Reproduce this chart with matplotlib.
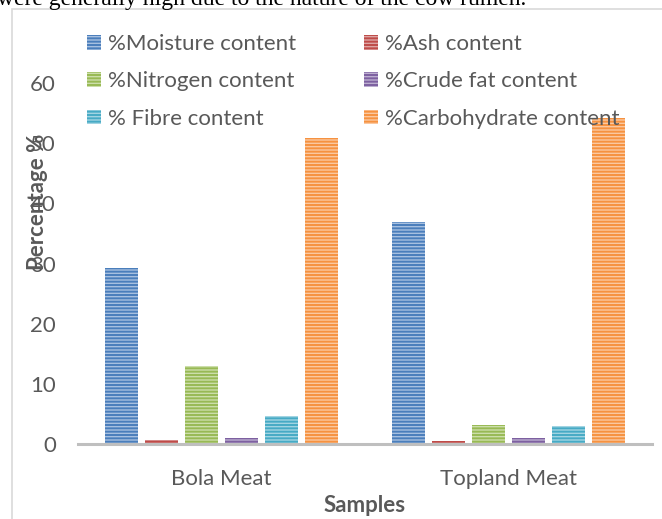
import matplotlib
matplotlib.use('Agg')
import matplotlib.pyplot as plt
import matplotlib.patches as mpatches
import numpy as np

samples = ['Bola Meat', 'Topland Meat']
series = ['%Moisture content', '%Ash content', '%Nitrogen content',
          '%Crude fat content', '% Fibre content', '%Carbohydrate content']
moisture = [29.3, 36.9]
ash = [0.7, 0.5]
nitrogen = [13.0, 3.2]
crude_fat = [1.0, 1.0]
fibre = [4.6, 3.0]
carbohydrate = [50.8, 54.2]
y_ticks = [0, 10, 20, 30, 40, 50, 60]

values = [moisture, ash, nitrogen, crude_fat, fibre, carbohydrate]
dark = ['#4A7EBB', '#BE4B48', '#98B954', '#7D60A0', '#46AAC5', '#F69240']
light = ['#A7C0E0', '#DDA4A3', '#CCDEAA', '#BCAED0', '#A2D4E2', '#FBC8A0']

plt.rcParams['font.family'] = ['Lato', 'DejaVu Sans']
plt.rcParams['hatch.linewidth'] = 1.4
text_col = '#595959'

fig = plt.figure(figsize=(6.62, 5.19), dpi=100)
W, H = 662, 519
ax = fig.add_axes([78 / W, 1 - 444 / H, 574 / W, 361 / H])

x = np.arange(len(samples))
step = 0.1394
width = 0.116
handles = []
for i, (name, vals) in enumerate(zip(series, values)):
    b = ax.bar(x + (i - 2.5) * step, vals, width, facecolor=light[i],
               edgecolor=dark[i], linewidth=0, hatch='-----', label=name)
    handles.append(b)

ax.set_xlim(-0.5, 1.5)
ax.set_ylim(0, 60)
ax.set_yticks(y_ticks)
ax.set_xticks(x)
ax.set_xticklabels(samples)
ax.tick_params(axis='both', length=0, labelsize=16, labelcolor=text_col)
ax.tick_params(axis='y', pad=16)
ax.tick_params(axis='x', pad=18)
for s in ['top', 'right', 'left']:
    ax.spines[s].set_visible(False)
ax.spines['bottom'].set_color('#BFBFBF')
ax.spines['bottom'].set_linewidth(2.2)

ax.set_ylabel('Percentage %', fontsize=16, fontweight='bold', color=text_col,
              va='center')
ax.yaxis.set_label_coords((38 - 78) / 574, (444 - 202) / 361)
ax.set_xlabel('Samples', fontsize=16, fontweight='bold', color=text_col)
ax.xaxis.set_label_coords(0.5, -(506 - 444) / 361)
ax.xaxis.label.set_va('center')

order = [0, 2, 4, 1, 3, 5]
leg = fig.legend([handles[k] for k in order], [series[k] for k in order],
                 ncol=2, loc='upper left', bbox_to_anchor=(87 / W, 1 - 34 / H),
                 frameon=False, fontsize=16, handlelength=0.64, handleheight=0.64,
                 handletextpad=0.3, columnspacing=3.05, labelspacing=0.78,
                 borderpad=0, borderaxespad=0)
for t in leg.get_texts():
    t.set_color(text_col)

# surrounding page frame and the cut-off sentence above the chart
fig.add_artist(mpatches.Rectangle((11.5 / W, -0.1), 1.2, 1 - 8.5 / H + 0.1,
                                  transform=fig.transFigure, fill=False,
                                  edgecolor='#D9D9D9', linewidth=1.2))
fig.text(-3 / W, 1 - 4.5 / H, 'were generally high due to the nature of the cow rumen.',
         family='Liberation Serif', fontsize=17, color='black', va='baseline', ha='left')

fig.savefig('out.png', dpi=100)
